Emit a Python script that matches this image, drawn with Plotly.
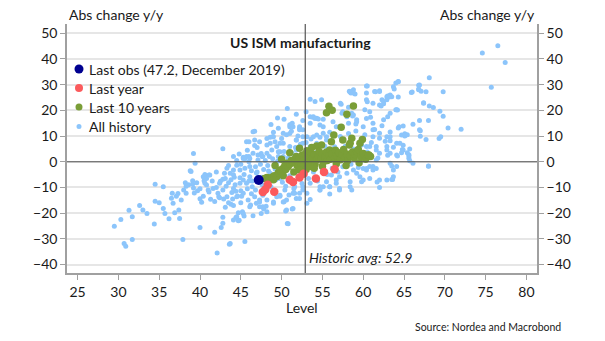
import plotly.graph_objects as go

# ISM manufacturing level vs. absolute change y/y
all_history = [
    # lower-left tail
    (29.5,-25.1),(30.3,-22.5),(30.7,-31.8),(30.9,-32.9),(31.7,-30.3),(31.3,-18.9),(31.7,-21.4),
    (32.6,-17.0),(33.0,-18.8),(33.5,-20.1),(34.5,-8.8),(34.5,-15.4),(34.4,-24.2),(35.0,-16.0),
    (35.5,-9.7),(35.5,-18.2),(35.7,-20.1),(36.2,-22.2),(36.5,-14.2),(36.6,-12.3),(36.7,-16.2),
    (36.9,-19.9),(37.1,-13.4),(37.4,-18.8),(37.5,-22.1),(37.3,-12.4),(37.7,-14.9),(37.9,-30.3),
    (38.0,-11.0),(38.2,-8.2),(38.3,-9.5),(38.3,-12.3),(38.6,-9.0),(38.8,-3.5),(38.9,-3.8),
    (39.1,-7.4),(39.1,-8.7),(39.2,-10.2),(39.3,-12.2),(39.6,-8.2),(39.7,-11.3),(39.2,3.2),(39.4,-0.6),
    (40.0,-14.4),(40.0,-25.6),(40.2,-15.8),(40.4,-13.4),(40.5,-7.4),(40.6,-8.4),(40.6,-6.4),
    (40.6,-5.0),(41.1,-5.2),(41.0,-11.0),(41.1,-11.8),(41.3,-14.6),(41.8,-27.4),(42.1,-35.5),
    (42.3,-13.6),(42.4,-14.0),(42.5,-7.6),(42.8,5.1),(42.8,-6.8),(42.6,-25.6),(42.8,-23.9),
    (42.8,-21.6),(43.1,-17.7),(43.3,-2.5),(43.5,-8.2),(43.6,-32.1),(43.8,-16.5),(43.9,-12.0),
    (44.1,-17.0),(44.1,-5.1),(44.4,-11.5),(44.4,-21.7),(44.5,-1.4),(44.6,-13.3),(44.7,-19.9),
    (44.8,-22.8),(44.9,-6.2),(45.0,-11.3),(45.1,-13.4),(45.2,-19.5),(45.4,-21.1),(45.5,-31.0),
    (45.5,1.2),(45.9,-14.9),(46.0,2.0),(46.0,-7.5),(46.2,-16.8),(46.4,-9.7),(46.5,-21.0),
    (46.7,6.3),(46.8,-11.0),(46.9,-4.4),(47.3,-15.7),(47.5,3.2),(47.6,-6.0),(47.6,2.0),
    (47.8,-12.4),(47.8,-18.4),(48.1,-17.3),(48.2,-19.5),(48.4,-3.6),(48.5,2.0),(48.7,-9.7),
    (49.0,-15.7),(49.3,-7.0),(49.6,2.0),(49.8,-13.4),(50.2,-15.7),(50.4,-11.0),(50.5,-19.2),
    (50.8,-24.1),(50.9,-12.9),(51.3,-18.4),(51.6,-9.7),(51.8,-14.3),
    (42.0,-10.0),(42.8,-11.0),(43.2,-9.5),(43.8,-7.0),(44.3,-9.0),(41.5,-7.5),(42.0,-4.0),
    (43.0,-4.5),(40.0,-10.5),(41.8,-15.5),(42.9,-14.5),(43.5,-16.0),(44.0,-14.5),(45.8,-10.5),
    (46.3,-12.5),(45.0,-16.0),
    # lower centre
    (47.7,-17.5),(49.0,-16.2),(50.3,-15.6),(50.6,-18.8),(50.7,-24.0),(51.4,-18.2),(51.6,-12.3),
    (52.2,-14.3),(49.8,-13.0),(46.1,-17.5),(45.3,-20.1),(44.5,-21.4),(44.1,-22.7),(44.7,-23.0),
    (47.5,-20.1),(43.7,-31.8),(46.9,-16.2),(47.3,-14.9),(53.1,-16.2),(53.5,-14.7),(53.1,-12.3),
    (52.6,-11.0),(55.9,-12.6),(54.7,-9.7),(57.1,-10.4),(58.4,-9.7),(58.6,-11.0),(59.8,-7.8),
    (61.7,-7.9),(62.0,-10.0),(63.5,-6.9),(66.1,-0.6),(68.0,-1.7),(60.0,-7.1),(56.7,-7.1),
    (56.1,-5.2),(55.5,-7.8),(55.9,-9.7),(57.1,-11.0),(54.7,-11.0),(52.2,-12.3),
    # middle band, left of average
    (50.7,20.7),(51.0,14.4),(51.2,14.4),(52.2,12.9),(46.7,11.9),(48.9,9.7),(50.6,10.5),
    (51.3,15.0),(52.2,13.6),(51.0,13.6),(52.6,12.4),(50.2,11.1),(51.2,11.9),(49.0,9.7),
    (46.7,8.5),(45.7,7.8),(45.3,1.7),(44.1,2.0),(47.1,0.7),(48.6,7.2),(49.4,5.9),(49.8,3.9),
    (50.2,7.2),(51.8,8.5),(52.6,7.2),(46.5,11.7),(46.0,7.8),(47.3,7.8),(48.2,6.5),(48.6,9.5),
    (49.2,7.8),(49.8,7.2),(45.3,1.3),(45.7,2.0),(46.1,1.3),(46.5,3.3),(47.1,2.6),(47.7,2.0),
    (48.2,3.3),(48.8,4.6),(49.6,3.9),(50.2,2.0),(44.1,-3.2),(43.7,-4.5),(44.9,-3.2),(46.1,-1.9),
    (45.3,-7.1),(44.9,-8.4),(45.7,-8.4),(46.1,-5.8),(42.4,-8.4),(43.1,-6.5),(41.6,-10.4),
    (40.8,-9.1),(40.4,-5.8),(41.2,-5.2),(44.1,-10.4),(46.7,-13.6),(45.3,-12.3),(47.7,-13.0),
    (43.3,-13.6),(44.5,-13.6),(42.2,-12.3),(40.8,-6.5),(50.6,-14.9),(49.4,-13.6),(48.2,-14.9),
    (51.4,-12.3),(47.3,-17.5),
    (44.5,0.5),(45.0,-1.0),(45.5,-2.5),(46.0,0.0),(46.3,-3.5),(46.8,-2.0),(47.0,-4.0),
    (47.4,-1.0),(47.8,-3.0),(48.0,0.5),(48.3,-1.5),(48.6,-4.5),(48.9,1.2),(49.2,-2.8),
    (49.5,0.2),(49.8,-6.5),(50.1,-8.0),(50.3,4.0),(50.5,-9.5),(50.8,1.5),(51.0,-5.5),
    (51.3,3.2),(51.5,-10.5),(51.7,5.5),(52.0,-3.5),(52.3,6.8),(52.5,-8.5),(52.8,-1.0),
    (45.8,4.5),(47.0,5.5),(48.2,9.0),(49.0,11.5),(49.6,13.0),(50.0,9.0),(51.0,11.0),
    (52.0,10.0),(47.6,-9.0),(46.4,-7.5),(45.4,-5.0),(44.2,-6.0),(43.5,-1.5),(44.8,3.0),
    (48.7,14.5),(50.3,16.5),(51.8,18.5),(52.6,16.0),(49.5,17.0),
    # centre, right of average
    (53.5,24.3),(54.9,24.1),(54.1,23.4),(53.5,17.5),(54.3,16.9),(53.1,9.7),(54.3,10.4),
    (55.1,13.6),(55.5,9.7),(56.3,10.4),(57.1,13.6),(58.0,17.5),(58.8,18.2),(59.2,16.3),
    (58.8,28.0),(58.8,26.7),(60.4,26.7),(61.2,22.8),(62.0,27.3),(62.9,24.1),(63.3,18.9),
    (63.7,29.2),(61.2,12.4),(62.0,9.1),(62.9,9.7),(60.0,9.1),(60.4,5.9),(61.6,5.9),(62.9,5.9),
    (64.1,7.2),(59.6,3.3),(62.0,3.3),(63.3,-0.6),(64.1,-1.9),(61.2,-1.9),(60.4,-3.2),(58.8,-3.2),
    (58.0,-4.5),(57.1,-5.8),(59.6,-5.8),(62.0,-7.1),(63.7,-5.8),(55.9,-9.7),(54.7,-11.0),
    (58.5,26.7),(58.3,27.4),(60.5,29.5),(61.5,27.2),(62.0,27.6),(62.9,25.3),(63.3,26.0),
    (64.0,30.6),(64.0,20.2),(60.4,24.1),(60.5,23.3),(62.0,22.1),(57.2,22.8),(57.4,18.9),
    (58.6,18.9),(60.2,20.2),(60.8,19.5),(53.9,17.5),(55.1,16.5),(53.5,15.0),(54.7,14.3),
    (56.3,15.6),(56.7,13.6),(58.2,15.0),(59.2,15.6),(60.0,13.6),(61.2,15.0),(62.5,16.3),
    (63.3,9.7),(62.0,11.1),(61.2,9.7),(60.8,5.9),(61.6,4.6),(51.4,13.6),(52.2,12.4),(52.6,9.7),
    (51.8,8.5),(53.9,9.7),(55.1,11.1),(55.5,8.5),(54.3,7.2),(53.5,5.9),(51.8,4.6),(51.0,5.9),
    (60.8,-1.9),(61.6,0.7),(63.7,-3.2),(61.2,-3.2),(60.0,-2.6),(59.2,-4.5),(60.8,-6.5),
    (58.4,-7.8),(56.7,-8.4),(55.1,-9.7),(62.9,-7.1),(52.6,-9.7),(53.5,-8.4),
    (53.0,7.5),(53.3,-6.5),(53.6,8.8),(53.9,-4.0),(54.2,3.5),(54.4,-7.5),(54.7,9.5),
    (55.0,-3.5),(55.3,6.0),(55.6,-5.0),(55.9,11.5),(56.2,-2.5),(56.5,5.8),(56.9,-4.0),
    (57.2,9.8),(57.5,-2.0),(57.8,6.0),(58.2,11.0),(58.5,-1.0),(58.8,5.0),(59.1,12.0),
    (59.4,-2.2),(59.8,6.5),(60.2,10.5),(60.5,3.8),(61.0,7.5),(61.4,12.5),(61.8,1.5),
    (62.3,14.0),(62.7,8.0),(63.0,2.5),
    # upper-right tail
    (74.6,42.3),(76.5,45.1),(77.4,38.6),(75.7,29.0),(68.1,32.7),(66.9,29.9),(64.3,31.1),
    (63.8,28.3),(66.8,28.0),(67.1,27.4),(67.7,27.2),(69.8,27.2),(66.0,27.1),(63.5,25.3),
    (64.3,25.2),(67.4,23.0),(68.1,21.7),(68.6,21.1),(69.4,19.6),(69.8,17.7),(64.2,20.1),
    (68.0,16.0),(66.1,14.6),(64.3,13.1),(70.4,13.1),(72.0,12.6),(67.0,12.1),(63.3,11.6),
    (64.7,10.4),(65.1,10.0),(67.0,9.9),(67.7,8.7),(69.3,9.0),(69.5,9.7),(63.3,8.2),(63.7,5.6),
    (64.9,6.4),(64.8,4.8),(65.7,5.0),(64.7,3.5),(65.4,3.5),(64.2,2.2),(65.6,2.2),(65.6,1.4),
    (65.7,0.4),(63.5,-1.7),(68.0,-1.8),(63.6,-6.9),
    (53.0,19.5),(53.8,17.3),(54.1,16.8),(54.5,16.6),(57.3,22.4),(57.5,19.5),(58.4,27.1),
    (59.0,26.4),(58.2,21.2),(58.7,17.8),(59.1,14.7),(60.4,16.8),(60.9,17.3),(61.4,27.3),
    (62.2,21.7),(62.5,23.4),(62.3,24.1),(62.5,22.6),(63.0,25.6),(63.2,25.2),(63.0,17.5),
    (64.3,31.2),(64.1,20.2),(65.9,26.9),(66.8,29.8),(66.8,28.3),(67.4,22.8),(66.9,16.0),
    (66.9,12.4),(64.9,13.9),(64.4,13.6),(65.4,10.5),(65.1,10.9),(60.4,29.5),(65.6,2.7),
    (64.9,4.6),(64.1,2.6),(64.5,7.2),(63.3,3.3),(62.9,4.6),(61.6,-2.6),(60.4,-2.6),
]

last_10_years = [
    (48.2,-6.1),(48.5,-6.6),(48.8,-6.0),(49.1,-5.5),(49.4,-5.8),(49.6,-4.2),(49.8,-3.2),
    (50.0,-4.0),(50.2,-2.5),(50.4,-1.5),(50.6,-0.6),(50.5,-3.0),(50.8,-2.0),(51.0,-1.0),
    (51.2,0.5),(51.4,-0.3),(51.6,1.0),(51.8,2.0),(51.9,-1.5),(52.0,0.3),(52.2,1.5),(52.4,-0.8),
    (52.5,2.5),(52.7,0.8),(52.9,3.0),(53.1,4.3),(53.0,1.0),(53.2,-0.5),(53.4,2.0),(53.5,3.9),
    (53.6,0.5),(53.8,1.5),(54.0,2.8),(54.1,-1.0),(54.3,6.1),(54.3,0.8),(54.5,2.2),(54.6,4.0),
    (54.8,1.2),(55.0,3.0),(55.1,-0.2),(55.3,1.8),(55.5,3.8),(55.6,0.5),(55.8,2.5),(55.9,4.6),
    (56.0,1.0),(56.1,7.8),(56.2,3.0),(56.4,10.4),(56.5,1.5),(56.6,4.5),(56.8,2.2),(57.0,3.5),
    (57.2,0.8),(57.3,13.4),(57.4,2.8),(57.5,8.5),(57.6,4.8),(57.8,1.6),(58.0,3.0),(58.1,0.5),
    (58.3,6.5),(58.4,2.2),(58.6,9.1),(58.7,3.8),(58.9,1.5),(59.0,2.8),(59.2,4.0),(59.4,4.8),
    (59.5,-0.4),(59.7,2.0),(59.9,8.7),(60.0,3.2),(60.3,1.0),(60.7,2.6),(60.9,2.0),(55.5,19.1),
    (55.8,21.6),(56.2,20.0),(58.0,18.5),(58.8,21.7),(47.9,-6.5),(49.0,-7.0),(51.5,-4.0),
    (50.2,-5.5),(52.6,-2.0),(53.0,-3.0),(54.0,-2.5),(49.2,-1.5),(50.0,1.0),(55.0,-1.8),
    (56.7,-0.8),(57.9,-1.5),(51.0,3.5),(52.2,5.2),(53.7,5.5),(54.9,6.5),(58.4,7.2),(59.6,7.2),
    (60.6,2.6),(53.5,-1.9),(52.2,-3.2),
]

last_year = [
    (56.5,-2.9),(54.2,-6.5),(55.2,-4.0),(52.7,-4.7),(52.2,-6.1),(51.4,-7.9),(51.0,-7.0),
    (49.1,-11.7),(47.7,-11.8),(48.3,-9.0),(48.0,-10.8),
]

last_obs = [(47.2, -7.1)]

avg_level = 52.9

x_ticks = list(range(25, 85, 5))
y_ticks = list(range(-40, 60, 10))

FONT = "Lato"
TXT = "#1a1a1a"
BLUE = "#8cc5fb"
GREEN = "#7a9e37"
RED = "#fb5a5c"
NAVY = "#000090"


def unzip(pairs):
    return [p[0] for p in pairs], [p[1] for p in pairs]


fig = go.Figure()
series = [
    ("All history", all_history, BLUE, 5),
    ("Last 10 years", last_10_years, GREEN, 7.5),
    ("Last year", last_year, RED, 8.5),
    ("Last obs (47.2, December 2019)", last_obs, NAVY, 10),
]
for name, pts, color, size in series:
    xs, ys = unzip(pts)
    fig.add_trace(go.Scatter(x=xs, y=ys, mode="markers", name=name,
                             marker=dict(color=color, size=size, line=dict(width=0)),
                             showlegend=False, cliponaxis=True))

# mirror axis on the right
fig.add_trace(go.Scatter(x=[None], y=[None], yaxis="y2", showlegend=False))

x_range = [23.7, 81.3]
y_range = [-43.3, 53.6]

fig.update_layout(
    width=605, height=341,
    margin=dict(l=67, r=68, t=24, b=68),
    paper_bgcolor="white", plot_bgcolor="white",
    font=dict(family=FONT, size=14, color=TXT),
    xaxis=dict(range=x_range, tickvals=x_ticks, showgrid=False, zeroline=False,
               showline=True, linecolor="#a0a0a0", linewidth=1.5,
               ticks="outside", ticklen=5, tickcolor="#a0a0a0", tickwidth=1.2),
    yaxis=dict(range=y_range, tickvals=y_ticks, showgrid=True, gridcolor="#e6e6e6",
               gridwidth=1.5, zeroline=False, showline=True, linecolor="#a0a0a0",
               linewidth=1.5, ticks="outside", ticklen=5, tickcolor="#a0a0a0", tickwidth=1.2),
    yaxis2=dict(range=y_range, tickvals=y_ticks, overlaying="y", side="right",
                showgrid=False, zeroline=False, showline=True, linecolor="#a0a0a0",
                linewidth=1.5, ticks="outside", ticklen=5, tickcolor="#a0a0a0", tickwidth=1.2),
)

# zero line and historic average
fig.add_shape(type="line", xref="paper", x0=0, x1=1, yref="y", y0=0, y1=0,
              line=dict(color="#555555", width=1.2), layer="above")
fig.add_shape(type="line", xref="x", x0=avg_level, x1=avg_level, yref="paper", y0=0, y1=1,
              line=dict(color="#555555", width=1.2), layer="above")

PH = 249.0
PW = 470.0


def py(px_y):
    return (341 - 68 - px_y) / PH


def px(px_x):
    return (px_x - 67) / PW


annotations = [
    dict(text="Abs change y/y", x=0, xanchor="left", y=py(15), yanchor="middle"),
    dict(text="Abs change y/y", x=1, xanchor="right", y=py(15), yanchor="middle"),
    dict(text="<b>US ISM manufacturing</b>", x=px(300), xanchor="center", y=py(43), yanchor="middle"),
    dict(text="Level", x=px(302), xanchor="center", y=py(307), yanchor="middle"),
    dict(text="Source: Nordea and Macrobond", x=px(563), xanchor="right", y=py(327),
         yanchor="middle", font=dict(size=10.5, family=FONT, color=TXT)),
    dict(text="<i>Historic avg: %.1f</i>" % avg_level, x=px(307), xanchor="left", y=py(257),
         yanchor="middle"),
]
for a in annotations:
    a.update(xref="paper", yref="paper", showarrow=False)
    a.setdefault("font", dict(size=14, family=FONT, color=TXT))
    fig.add_annotation(**a)

# key
key_rows = [(s[0], s[2], s[3]) for s in reversed(series)]
key_y = [69, 88, 107, 126.5]
key_sizes = [9, 8, 7, 5]
for (label, color, _), yy, d in zip(key_rows, key_y, key_sizes):
    fig.add_shape(type="circle", xref="paper", yref="paper", xsizemode="pixel",
                  ysizemode="pixel", xanchor=px(79), yanchor=py(yy),
                  x0=-d / 2, x1=d / 2, y0=-d / 2, y1=d / 2,
                  fillcolor=color, line=dict(width=0), layer="above")
    fig.add_annotation(text=label, xref="paper", yref="paper", x=px(87), xanchor="left",
                       y=py(yy), yanchor="middle", showarrow=False,
                       font=dict(size=14, family=FONT, color=TXT))

fig.write_html("out.html")
